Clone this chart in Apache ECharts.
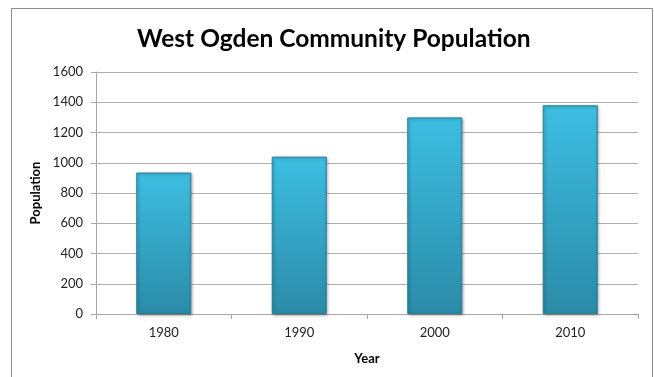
<!DOCTYPE html>
<html>
<head>
<meta charset="utf-8">
<script src="https://cdn.jsdelivr.net/npm/echarts@6/dist/echarts.min.js"></script>
<style>html,body{margin:0;padding:0;background:#fff;}#c{width:654px;height:377px;}</style>
</head>
<body>
<div id="c"></div>
<script>
const years = ['1980', '1990', '2000', '2010'];
const population = [935, 1040, 1300, 1380];
const yTicks = { min: 0, max: 1600, interval: 200 };

const chart = echarts.init(document.getElementById('c'));
const barColor = new echarts.graphic.LinearGradient(0, 0, 0, 1, [
  { offset: 0, color: '#3dbee2' },
  { offset: 1, color: '#2b8ba8' }
]);
chart.setOption({
  animation: false,
  backgroundColor: '#fff',
  title: {
    text: 'West Ogden Community Population',
    left: 132,
    top: 22,
    textStyle: { fontFamily: 'Lato', fontWeight: 'bold', fontSize: 24.5, color: '#000' }
  },
  graphic: [{
    type: 'rect',
    shape: { x: 11.5, y: 8.5, width: 641, height: 400 },
    style: { fill: 'none', stroke: '#8c8c8c', lineWidth: 1 },
    silent: true, z: -1
  }],
  grid: { left: 96, right: 16, top: 72, bottom: 63 },
  xAxis: {
    type: 'category',
    data: years,
    name: 'Year',
    nameLocation: 'middle',
    nameGap: 38,
    nameTextStyle: { fontFamily: 'Lato', fontWeight: 'bold', fontSize: 13, color: '#000' },
    axisLine: { lineStyle: { color: '#a6a6a6' } },
    axisTick: { show: true, length: 5, lineStyle: { color: '#a6a6a6' } },
    axisLabel: { fontFamily: 'Lato', fontSize: 13, color: '#222', margin: 12 }
  },
  yAxis: {
    type: 'value',
    min: yTicks.min, max: yTicks.max, interval: yTicks.interval,
    name: 'Population',
    nameLocation: 'middle',
    nameGap: 42,
    nameTextStyle: { fontFamily: 'Lato', fontWeight: 'bold', fontSize: 13, color: '#000' },
    axisLine: { show: true, lineStyle: { color: '#a6a6a6' } },
    axisTick: { show: true, length: 5, lineStyle: { color: '#a6a6a6' } },
    axisLabel: { fontFamily: 'Lato', fontSize: 13, color: '#222', margin: 13, formatter: v => String(v) },
    splitLine: { lineStyle: { color: '#b0b0b0' } }
  },
  series: [{
    type: 'bar',
    data: population,
    barWidth: 55,
    itemStyle: {
      color: barColor,
      borderColor: '#2a7f99',
      borderWidth: 1,
      shadowColor: 'rgba(0,0,0,0.35)',
      shadowBlur: 3,
      shadowOffsetX: 1,
      shadowOffsetY: 1
    }
  }]
});
</script>
</body>
</html>
